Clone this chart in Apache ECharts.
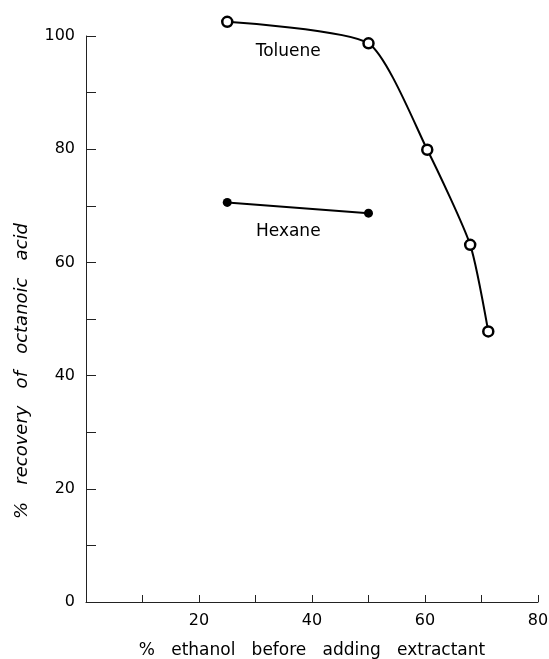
<!DOCTYPE html>
<html>
<head>
<meta charset="utf-8">
<script src="https://cdn.jsdelivr.net/npm/echarts@6/dist/echarts.min.js"></script>
<style>
  html, body { margin: 0; padding: 0; background: #fff; }
  #chart { width: 549px; height: 659px; }
</style>
</head>
<body>
<div id="chart"></div>
<script>
// % ethanol / % recovery
var tolueneX = [25, 50, 60.4, 68, 71.2];
var tolueneY = [102.5, 98.7, 79.9, 63.1, 47.8];
var hexaneX = [25, 50];
var hexaneY = [70.6, 68.7];
var xTicks = [0, 20, 40, 60, 80];
var yTicks = [0, 20, 40, 60, 80, 100];
// curve labels sit at these data points
var labelNames = ['Toluene', 'Hexane'];
var labelX = [35.8, 35.8];
var labelY = [97.2, 65.5];

function pairs(xs, ys) {
  var out = [];
  for (var i = 0; i < xs.length; i++) out.push([xs[i], ys[i]]);
  return out;
}

var font = 'DejaVu Sans';
var chart = echarts.init(document.getElementById('chart'));

chart.setOption({
  animation: false,
  backgroundColor: '#fff',
  grid: { left: 86, right: 11, top: 36, bottom: 57, outerBoundsMode: 'none' },
  xAxis: {
    type: 'value',
    min: xTicks[0], max: xTicks[xTicks.length - 1], interval: 20,
    name: '%   ethanol   before   adding   extractant',
    nameLocation: 'middle', nameGap: 40,
    nameTextStyle: { fontFamily: font, fontSize: 17, color: '#000' },
    axisLine: { lineStyle: { color: '#222', width: 1 } },
    axisTick: { inside: true, length: 7, lineStyle: { color: '#222' } },
    minorTick: { show: true, splitNumber: 2, length: 7, lineStyle: { color: '#222' } },
    splitLine: { show: false },
    axisLabel: {
      margin: 11, fontFamily: font, fontSize: 16, color: '#000',
      formatter: function (v) { return v === 0 ? '' : v; }
    }
  },
  yAxis: {
    type: 'value',
    min: yTicks[0], max: yTicks[yTicks.length - 1], interval: 20,
    axisLine: { show: true, lineStyle: { color: '#222', width: 1 } },
    axisTick: { show: true, inside: true, length: 10, lineStyle: { color: '#222' } },
    minorTick: { show: true, splitNumber: 2, length: 10, lineStyle: { color: '#222' } },
    splitLine: { show: false },
    axisLabel: { margin: 11, fontFamily: font, fontSize: 16, color: '#000' }
  },
  graphic: [{
    type: 'text',
    x: 22, y: 371,
    rotation: Math.PI / 2,
    style: {
      text: '%   recovery   of   octanoic   acid',
      fontFamily: font, fontSize: 18, fontStyle: 'italic',
      fill: '#000', align: 'center', verticalAlign: 'middle'
    }
  }],
  series: [
    {
      name: 'Toluene',
      type: 'line',
      data: pairs(tolueneX, tolueneY),
      smooth: 0.2,
      clip: false,
      symbol: 'circle', symbolSize: 10,
      lineStyle: { color: '#000', width: 2 },
      itemStyle: { color: '#fff', borderColor: '#000', borderWidth: 2.5 },
      z: 3
    },
    {
      name: 'Hexane',
      type: 'line',
      data: pairs(hexaneX, hexaneY),
      clip: false,
      symbol: 'circle', symbolSize: 9,
      lineStyle: { color: '#000', width: 2 },
      itemStyle: { color: '#000' },
      z: 3
    },
    {
      name: 'labels',
      type: 'scatter',
      data: pairs(labelX, labelY).map(function (p, i) {
        return { value: p, name: labelNames[i] };
      }),
      symbolSize: 0,
      silent: true,
      itemStyle: { opacity: 1 },
      label: {
        show: true, position: 'inside',
        formatter: '{b}',
        fontFamily: font, fontSize: 17, color: '#000'
      }
    }
  ]
});
</script>
</body>
</html>
